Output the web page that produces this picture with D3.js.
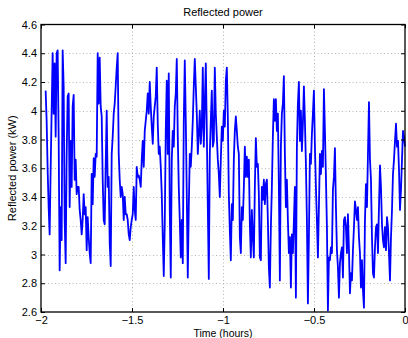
<!DOCTYPE html>
<html>
<head>
<meta charset="utf-8">
<script src="https://cdn.jsdelivr.net/npm/d3@7"></script>
<style>
  body { margin: 0; background: #fff; }
  svg { display: block; font-family: "Liberation Sans", Arial, sans-serif; }
</style>
</head>
<body>
<script>
// Reflected power (kW), one sample every 0.0055 h, last sample at t = 0
const power = [
    4.14, 3.93, 3.59, 3.33, 3.14, 3.59, 4.00, 4.40, 3.98, 4.33,
    3.82, 4.40, 4.42, 3.82, 2.89, 3.33, 3.10, 4.42, 4.17, 3.24,
    2.94, 3.70, 4.10, 4.12, 3.33, 3.79, 3.47, 4.03, 4.11, 3.52,
    3.66, 3.42, 3.47, 3.47, 3.31, 3.24, 3.14, 3.24, 3.42, 3.28,
    3.33, 3.03, 3.26, 3.12, 3.01, 2.94, 3.56, 3.35, 3.67, 3.54,
    3.70, 3.68, 4.40, 4.05, 4.37, 4.03, 3.96, 3.52, 3.24, 3.21,
    3.63, 4.00, 3.47, 3.54, 3.08, 2.92, 3.70, 3.82, 3.98, 4.05,
    4.17, 4.30, 4.40, 3.70, 3.52, 3.40, 3.47, 3.42, 3.24, 3.40,
    3.28, 3.28, 3.24, 3.14, 3.10, 3.19, 3.24, 3.28, 3.47, 3.31,
    3.24, 3.61, 3.54, 3.55, 3.52, 3.47, 3.66, 3.79, 3.61, 3.86,
    3.93, 4.00, 4.12, 3.98, 4.20, 4.03, 3.89, 3.77, 3.96, 4.03,
    4.10, 4.30, 3.91, 3.70,
    3.75, 3.61, 3.42, 3.12, 2.85, 3.21, 3.86, 4.21, 3.70, 4.26,
    3.31, 2.84, 3.66, 3.86, 3.75, 4.03, 4.12, 4.36, 3.82, 3.47,
    3.24, 2.98, 3.24, 2.94, 3.93, 4.35, 3.93, 3.42, 2.84, 3.33,
    3.70, 3.61, 3.75, 3.93, 4.17, 4.36, 4.17, 3.98, 3.70, 3.84,
    4.00, 3.77, 3.89, 4.30, 3.75, 4.05, 4.33, 3.86, 3.33, 2.83,
    3.70, 3.93, 4.14, 3.75, 3.79, 4.30, 3.98, 3.82, 3.66, 3.56,
    3.40, 3.66, 3.89, 3.79, 4.00, 3.89, 4.21, 4.30, 3.96, 3.42,
    3.17, 2.96, 3.35, 3.24, 3.66, 3.86, 3.96, 3.86, 3.75, 3.70,
    3.12, 3.01, 3.33, 3.24, 3.47, 3.75, 3.54, 3.68, 3.54, 3.66,
    3.21, 2.98, 3.31, 3.12, 2.98, 3.47, 3.81, 3.61, 3.63, 3.42,
    2.98, 2.96, 3.47, 3.38, 3.52, 3.35, 3.49, 3.52, 3.24, 2.91,
    2.77, 3.19, 3.47, 3.82, 4.08, 3.93, 4.08, 3.86, 3.98, 3.47,
    2.82, 3.75, 3.98, 4.05, 4.24, 3.70, 3.33, 3.52, 3.24, 3.01,
    3.12, 2.77, 3.14, 3.01, 3.24, 3.47, 2.70, 3.75, 4.05, 4.20,
    3.79, 4.00, 3.72, 3.91, 4.17, 3.93, 3.63, 3.24, 2.66, 3.12,
    3.70, 3.63, 3.84, 3.98, 4.14, 3.75, 3.47, 3.24, 2.98, 3.33,
    3.70, 3.56, 3.72, 3.61, 4.15, 3.86, 3.54, 3.19, 2.61, 2.98,
    2.96, 3.05, 3.01, 3.45, 3.54, 3.74, 3.33, 3.03, 2.91, 2.70,
    2.94, 3.01, 3.05, 2.84, 3.24, 3.26, 3.19, 3.01, 3.28, 3.03,
    2.73, 2.87, 2.82, 3.03, 3.19, 3.37, 3.31, 3.24, 3.33, 3.12,
    3.01, 2.77, 2.96, 2.75, 2.63, 3.24, 3.49, 3.33, 3.70, 4.06,
    3.66, 3.52, 3.12, 2.87, 2.84, 3.05, 3.19, 3.21, 3.01, 3.33,
    3.62, 3.47, 3.21, 3.10, 3.05, 3.19, 3.03, 3.26, 3.19, 3.01,
    2.82, 3.12, 3.31, 3.56, 3.66, 3.79, 3.91, 3.75, 3.79, 3.59,
    3.31, 3.45, 3.66, 3.86, 3.82, 3.75
];
const sampleStep = 0.0055; // hours
const endTime = 0;

const xTicks = [-2, -1.5, -1, -0.5, 0];
const yTicks = [2.6, 2.8, 3, 3.2, 3.4, 3.6, 3.8, 4, 4.2, 4.4, 4.6];

let data = power.map((v, i) => ({
    t: endTime - (power.length - 1 - i) * sampleStep,
    p: v
}));

let width = 408;
let height = 338;
let marginTop = 24.5;
let marginRight = 3;
let marginBottom = 26;
let marginLeft = 41;

let x = d3.scaleLinear()
    .domain([-2, 0])
    .range([marginLeft, width - marginRight]);

let y = d3.scaleLinear()
    .domain([2.6, 4.6])
    .range([height - marginBottom, marginTop]);

let svg = d3.select("body").append("svg")
    .attr("width", width)
    .attr("height", height)
    .attr("viewBox", [0, 0, width, height])
    .style("font-size", "11px");

// dotted grid
let grid = svg.append("g")
    .attr("stroke", "#b4b4b4")
    .attr("stroke-width", 1)
    .attr("stroke-dasharray", "1,2.5");

grid.selectAll(".vgrid")
    .data(xTicks.slice(1, -1))
    .join("line")
    .attr("x1", d => Math.round(x(d)) + 0.5)
    .attr("x2", d => Math.round(x(d)) + 0.5)
    .attr("y1", y(4.6))
    .attr("y2", y(2.6));

grid.selectAll(".hgrid")
    .data(yTicks.slice(1, -1))
    .join("line")
    .attr("x1", x(-2))
    .attr("x2", x(0))
    .attr("y1", d => Math.round(y(d)) + 0.5)
    .attr("y2", d => Math.round(y(d)) + 0.5);

// the signal
const line = d3.line()
    .x(d => x(d.t))
    .y(d => y(d.p));

svg.append("path")
    .datum(data)
    .attr("fill", "none")
    .attr("stroke", "#0000ff")
    .attr("stroke-width", 1.8)
    .attr("stroke-linejoin", "round")
    .attr("d", line);

// axes, ticks pointing inward on all four sides
const fmt = d3.format("");

svg.append("g")
    .attr("transform", `translate(0,${height - marginBottom})`)
    .call(d3.axisBottom(x).tickValues(xTicks).tickFormat(fmt).tickSizeInner(-4).tickSizeOuter(0).tickPadding(4))
    .call(g => g.select(".domain").remove());

svg.append("g")
    .attr("transform", `translate(${marginLeft},0)`)
    .call(d3.axisLeft(y).tickValues(yTicks).tickFormat(fmt).tickSizeInner(-4).tickSizeOuter(0).tickPadding(4))
    .call(g => g.select(".domain").remove());

svg.append("g")
    .attr("transform", `translate(0,${marginTop})`)
    .call(d3.axisTop(x).tickValues(xTicks).tickFormat("").tickSizeInner(-4).tickSizeOuter(0))
    .call(g => g.select(".domain").remove());

svg.append("g")
    .attr("transform", `translate(${width - marginRight},0)`)
    .call(d3.axisRight(y).tickValues(yTicks).tickFormat("").tickSizeInner(-4).tickSizeOuter(0))
    .call(g => g.select(".domain").remove());

svg.selectAll(".tick text")
    .attr("fill", "#000")
    .style("font-size", "11px")
    .style("font-family", "'Liberation Sans', Arial, sans-serif");

// box
svg.append("rect")
    .attr("x", x(-2))
    .attr("y", y(4.6))
    .attr("width", x(0) - x(-2))
    .attr("height", y(2.6) - y(4.6))
    .attr("fill", "none")
    .attr("stroke", "#000")
    .attr("stroke-width", 1.3);

// title and labels
svg.append("text")
    .attr("x", (x(-2) + x(0)) / 2)
    .attr("y", 16)
    .attr("text-anchor", "middle")
    .text("Reflected power");

svg.append("text")
    .attr("x", (x(-2) + x(0)) / 2)
    .attr("y", 336.5)
    .attr("text-anchor", "middle")
    .style("font-size", "10.5px")
    .text("Time (hours)");

svg.append("text")
    .attr("transform", `translate(16,${(y(2.6) + y(4.6)) / 2}) rotate(-90)`)
    .attr("text-anchor", "middle")
    .text("Reflected power (kW)");
</script>
</body>
</html>
